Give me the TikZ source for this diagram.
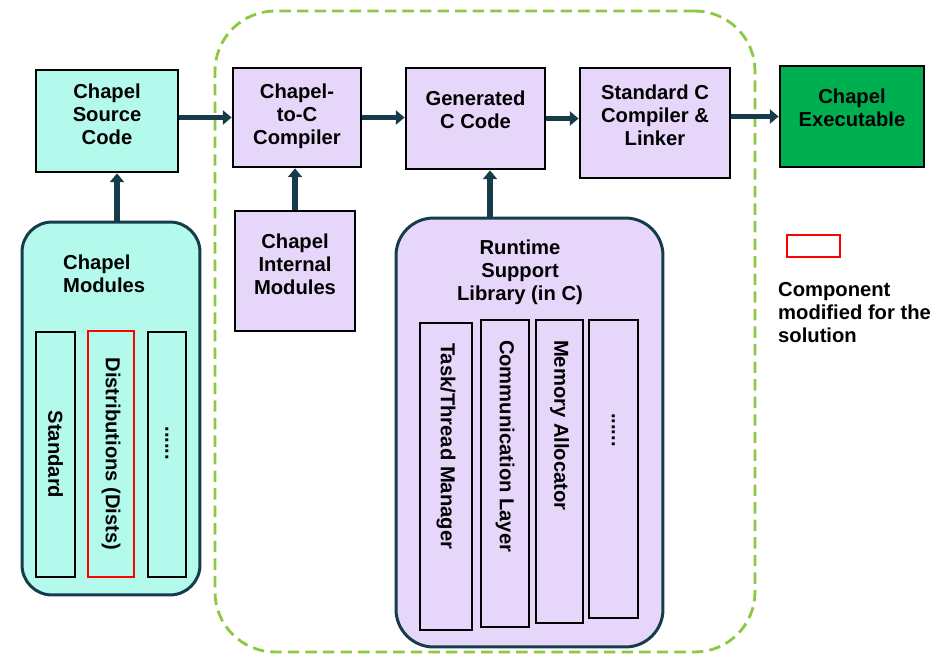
\documentclass[tikz,border=0pt]{standalone}
\usepackage{fontspec}
\setmainfont{Liberation Sans}
\usetikzlibrary{arrows.meta}
\definecolor{modcyan}{RGB}{180,250,236}
\definecolor{rtpurple}{RGB}{230,215,250}
\definecolor{exegreen}{RGB}{0,176,80}
\definecolor{flowteal}{RGB}{22,60,76}
\definecolor{chaingreen}{RGB}{140,200,65}
% extra room under the last line, lifts the text in its box
\newcommand{\botpad}[1]{\rule[-#1]{0pt}{0pt}}
\begin{document}
\begin{tikzpicture}[x=0.02cm, y=-0.02cm,
  every node/.style={font=\fontsize{11.5}{13.2}\selectfont\bfseries},
  box/.style={draw=black, line width=1.6pt, align=center, inner sep=0pt},
  cbox/.style={box, fill=modcyan},
  pbox/.style={box, fill=rtpurple},
  group/.style={draw=flowteal, line width=1.7pt, inner sep=0pt},
  strip/.style={box, rotate=-90},
  rtstrip/.style={box, fill=rtpurple, rotate=-90, align=flush left, inner xsep=0.4cm},
  chainbox/.style={draw=chaingreen, line width=1.6pt, dash pattern=on 6.5pt off 3.5pt, rounded corners=1.2cm, inner sep=0pt},
  flow/.style={draw=flowteal, line width=3.2pt, -{Triangle[length=5pt,width=8pt]}}]
\useasboundingbox (0,0) rectangle (944,660);
% compiler tool chain
\node[chainbox, minimum width=10.8cm, minimum height=12.82cm] (chain) at (485,331.5) {};
% top row
\node[cbox, minimum width=2.84cm, minimum height=2.04cm] (src) at (107,121) {Chapel\\Source\\Code\botpad{8pt}};
\node[pbox, minimum width=2.56cm, minimum height=1.98cm] (c2c) at (297,117.5) {Chapel-\\to-C\\Compiler\botpad{3.5pt}};
\node[pbox, minimum width=2.78cm, minimum height=2.02cm] (gen) at (475.5,118.5) {Generated\\C Code\botpad{10pt}};
\node[pbox, minimum width=3.0cm, minimum height=2.2cm] (stdc) at (655,123) {Standard C\\Compiler \&\\Linker\botpad{9pt}};
\node[box, fill=exegreen, minimum width=2.88cm, minimum height=2.02cm] (exe) at (852,116.5) {Chapel\\Executable\botpad{10pt}};
\node[pbox, minimum width=2.4cm, minimum height=2.4cm] (intmod) at (295,271) {Chapel\\Internal\\Modules\botpad{8pt}};
% chapel modules
\node[group, fill=modcyan, rounded corners=0.6cm, minimum width=3.56cm, minimum height=7.46cm] (mods) at (111,408.5) {};
\node[anchor=west, align=left] (modtitle) at (57,274) {Chapel\\Modules};
\node[strip, fill=modcyan, minimum width=4.9cm, minimum height=0.78cm] (std) at (55.5,454.5) {Standard};
\node[strip, draw=red, fill=modcyan, minimum width=4.92cm, minimum height=0.92cm] (dists) at (111,454) {Distributions (Dists)};
\node[strip, fill=modcyan, minimum width=4.9cm, minimum height=0.76cm] (moddots) at (167,454.5) {......\hspace*{0.45cm}};
% runtime library
\node[group, fill=rtpurple, rounded corners=0.75cm, minimum width=5.34cm, minimum height=8.58cm] (rt) at (529.5,432.5) {};
\node[align=center] (rttitle) at (520,272) {Runtime\\Support\\Library (in C)};
\node[rtstrip, text width=5.34cm, minimum height=1.04cm] (task) at (446,476.5) {Task/Thread Manager};
\node[rtstrip, text width=5.34cm, minimum height=0.96cm] (comm) at (505,473.5) {Communication Layer};
\node[rtstrip, text width=5.26cm, minimum height=0.94cm] (mem) at (559.5,471.5) {Memory Allocator};
\node[rtstrip, text width=5.16cm, minimum height=0.98cm] (rtdots) at (613.5,469) {\hspace*{1.46cm}......};
% legend
\node[draw=red, line width=1.5pt, minimum width=1.06cm, minimum height=0.44cm, inner sep=0pt] (legbox) at (813.5,246) {};
\node[anchor=north west, align=left] (legtext) at (772,276) {Component\\modified for the\\solution};
% flows
\draw[flow] (src.east |- c2c.west) -- (c2c.west);
\draw[flow] (c2c.east) -- (c2c.east -| gen.west);
\draw[flow] (gen.east) -- (gen.east -| stdc.west);
\draw[flow] (stdc.east |- exe.west) -- (exe.west);
\coordinate (modsout) at (117,222);
\draw[flow] (modsout) -- (modsout |- src.south);
\draw[flow] (intmod.north) -- (intmod.north |- c2c.south);
\coordinate (rtout) at (490,218);
\draw[flow] (rtout) -- (rtout |- gen.south);
\end{tikzpicture}
\end{document}
